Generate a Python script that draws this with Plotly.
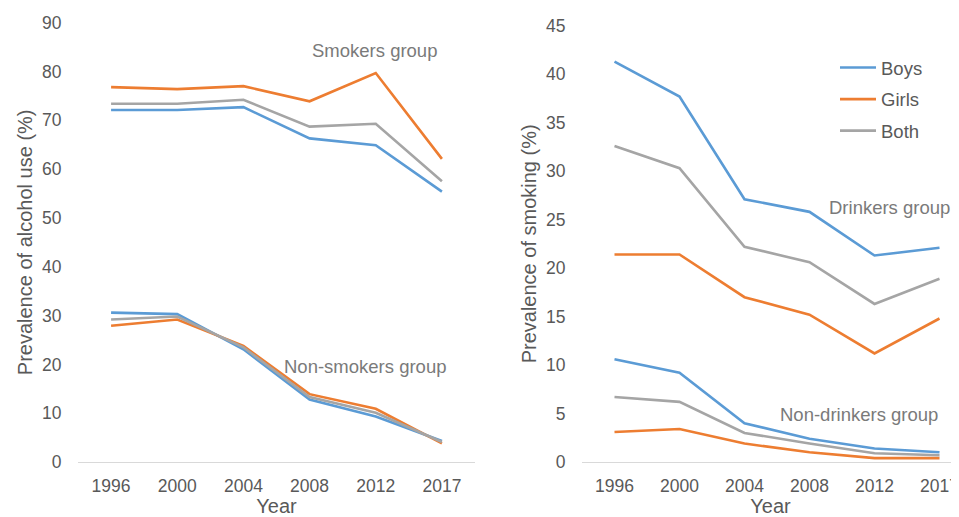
import plotly.graph_objects as go

years = ["1996", "2000", "2004", "2008", "2012", "2017"]

# Prevalence of alcohol use (%)
alc_smokers_boys = [72.1, 72.1, 72.7, 66.3, 64.9, 55.4]
alc_smokers_girls = [76.8, 76.4, 77.0, 73.9, 79.7, 62.1]
alc_smokers_both = [73.4, 73.4, 74.2, 68.7, 69.3, 57.5]
alc_nonsmokers_boys = [30.6, 30.3, 23.1, 12.8, 9.3, 4.3]
alc_nonsmokers_girls = [27.9, 29.2, 23.8, 13.9, 10.9, 3.8]
alc_nonsmokers_both = [29.2, 29.8, 23.5, 13.3, 10.1, 4.1]

# Prevalence of smoking (%)
smk_drinkers_boys = [41.3, 37.7, 27.1, 25.8, 21.3, 22.1]
smk_drinkers_girls = [21.4, 21.4, 17.0, 15.2, 11.2, 14.8]
smk_drinkers_both = [32.6, 30.3, 22.2, 20.6, 16.3, 18.9]
smk_nondrinkers_boys = [10.6, 9.2, 4.0, 2.4, 1.4, 1.0]
smk_nondrinkers_girls = [3.1, 3.4, 1.9, 1.0, 0.4, 0.4]
smk_nondrinkers_both = [6.7, 6.2, 3.0, 1.9, 0.9, 0.7]

OFF = 8  # page body margin
W, H = 959 - OFF, 517 - OFF
BLUE, ORANGE, GRAY = "#5B9BD5", "#ED7D31", "#A5A5A5"
FONT = "Liberation Sans, Arial, sans-serif"
TICK_C = "#595959"
ANN_C = "#7a7a7a"


def px(x):
    return (x - OFF) / W


def py(y):
    return 1 - (y - OFF) / H


fig = go.Figure()

series = [
    ("Boys", BLUE, alc_smokers_boys, alc_nonsmokers_boys, smk_drinkers_boys, smk_nondrinkers_boys),
    ("Girls", ORANGE, alc_smokers_girls, alc_nonsmokers_girls, smk_drinkers_girls, smk_nondrinkers_girls),
    ("Both", GRAY, alc_smokers_both, alc_nonsmokers_both, smk_drinkers_both, smk_nondrinkers_both),
]

for name, color, a1, a2, s1, s2 in series:
    for i, (vals, xa, ya) in enumerate([(a1, "x", "y"), (a2, "x", "y"), (s1, "x2", "y2"), (s2, "x2", "y2")]):
        fig.add_trace(go.Scatter(
            x=years, y=vals, mode="lines", name=name,
            line=dict(color=color, width=2.6),
            xaxis=xa, yaxis=ya, legendgroup=name, showlegend=(i == 0),
            cliponaxis=False,
        ))

ybot = py(462)
axis_common = dict(
    showgrid=False, zeroline=False, automargin=False,
    tickfont=dict(family=FONT, size=17.5, color=TICK_C),
    title_font=dict(family=FONT, size=20, color=TICK_C),
)

fig.update_layout(
    width=W, height=H,
    margin=dict(l=0, r=0, t=0, b=0),
    paper_bgcolor="white", plot_bgcolor="white",
    template=None,
    font=dict(family=FONT, size=17, color=TICK_C),
    xaxis=dict(domain=[px(78), px(475)], type="category", range=[-0.5, 5.5],
               showline=True, linecolor="#d9d9d9", linewidth=1.3,
               ticks="outside", ticklen=8, tickcolor="rgba(0,0,0,0)",
               title=dict(text="Year", standoff=0), anchor="y", **axis_common),
    yaxis=dict(domain=[ybot, py(22.7)], range=[0, 90], dtick=10,
               showline=False, ticks="outside", ticklen=12, tickcolor="rgba(0,0,0,0)",
               title=dict(text="Prevalence of alcohol use (%)", standoff=4), anchor="x",
               **axis_common),
    xaxis2=dict(domain=[px(582), 1.0], type="category", range=[-0.5, 5.3],
                showline=True, linecolor="#d9d9d9", linewidth=1.3,
                ticks="outside", ticklen=8, tickcolor="rgba(0,0,0,0)",
                title=dict(text="Year", standoff=0), anchor="y2", **axis_common),
    yaxis2=dict(domain=[ybot, py(25.7)], range=[0, 45], dtick=5,
                showline=False, ticks="outside", ticklen=12, tickcolor="rgba(0,0,0,0)",
                title=dict(text="Prevalence of smoking (%)", standoff=4), anchor="x2",
                **axis_common),
    legend=dict(x=px(835), y=py(49), xanchor="left", yanchor="top",
                font=dict(family=FONT, size=18.5, color=TICK_C),
                bgcolor="rgba(0,0,0,0)", tracegroupgap=4.5, itemwidth=36),
    showlegend=True,
)

ann = [
    ("Smokers group", 439, 51, "right"),
    ("Non-smokers group", 448, 366, "right"),
    ("Drinkers group", 952, 207, "right"),
    ("Non-drinkers group", 940, 414, "right"),
]
for text, x, y, anc in ann:
    fig.add_annotation(text=text, x=px(x), y=py(y), xref="paper", yref="paper",
                       showarrow=False, xanchor=anc, yanchor="middle",
                       font=dict(family=FONT, size=18.5, color=ANN_C))

fig.write_html("out.html")
